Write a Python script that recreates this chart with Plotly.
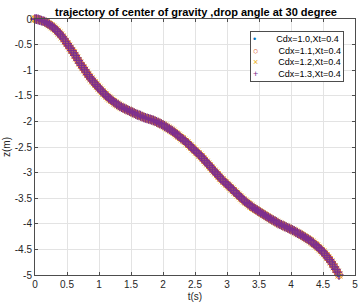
import plotly.graph_objects as go

# time samples (s)
t = [round(0.025 * i, 3) for i in range(191)]

# vertical position of centre of gravity z (m)
z = [0.00, -0.003, -0.01, -0.02, -0.03, -0.04, -0.05, -0.07, -0.09, -0.11,
     -0.13, -0.155, -0.18, -0.21, -0.24, -0.275, -0.31, -0.35, -0.39, -0.435,
     -0.48, -0.525, -0.57, -0.615, -0.66, -0.71, -0.76, -0.81, -0.86, -0.905,
     -0.95, -0.995, -1.04, -1.085, -1.13, -1.17, -1.21, -1.245, -1.28, -1.315,
     -1.35, -1.385, -1.42, -1.45, -1.48, -1.51, -1.54, -1.565, -1.59, -1.615,
     -1.64, -1.66, -1.68, -1.70, -1.72, -1.735, -1.75, -1.765, -1.78, -1.795,
     -1.81, -1.825, -1.84, -1.855, -1.87, -1.88, -1.89, -1.905, -1.92, -1.93,
     -1.94, -1.95, -1.96, -1.97, -1.98, -1.995, -2.01, -2.025, -2.04, -2.055,
     -2.07, -2.09, -2.11, -2.13, -2.15, -2.17, -2.19, -2.215, -2.24, -2.265,
     -2.29, -2.315, -2.34, -2.365, -2.39, -2.42, -2.45, -2.48, -2.51, -2.54,
     -2.57, -2.60, -2.63, -2.66, -2.69, -2.725, -2.76, -2.795, -2.83, -2.865,
     -2.90, -2.935, -2.97, -3.005, -3.04, -3.075, -3.11, -3.14, -3.17, -3.20,
     -3.23, -3.26, -3.29, -3.32, -3.35, -3.38, -3.41, -3.44, -3.47, -3.50,
     -3.53, -3.555, -3.58, -3.605, -3.63, -3.655, -3.68, -3.70, -3.72, -3.74,
     -3.76, -3.78, -3.80, -3.82, -3.84, -3.86, -3.88, -3.90, -3.92, -3.935,
     -3.95, -3.97, -3.99, -4.005, -4.02, -4.035, -4.05, -4.065, -4.08, -4.095,
     -4.11, -4.125, -4.14, -4.16, -4.18, -4.195, -4.21, -4.23, -4.25, -4.27,
     -4.29, -4.31, -4.33, -4.355, -4.38, -4.405, -4.43, -4.46, -4.49, -4.52,
     -4.55, -4.585, -4.62, -4.66, -4.70, -4.745, -4.79, -4.84, -4.89, -4.945,
     -5.00]

series_names = ["Cdx=1.0,Xt=0.4", "Cdx=1.1,Xt=0.4", "Cdx=1.2,Xt=0.4", "Cdx=1.3,Xt=0.4"]
series_colors = ["#0072BD", "#D95319", "#EDB120", "#7E2F8E"]
series_symbols = ["circle", "circle-open", "x-thin-open", "cross-thin-open"]
series_sizes = [4, 7, 7, 7]
series_widths = [1, 1, 1, 1.2]
legend_glyphs = ["\u2022", "\u25CB", "\u00D7", "+"]

x_ticks = [0, 0.5, 1, 1.5, 2, 2.5, 3, 3.5, 4, 4.5, 5]
y_ticks = [0, -0.5, -1, -1.5, -2, -2.5, -3, -3.5, -4, -4.5, -5]

fig = go.Figure()
for name, col, sym, sz, lw in zip(series_names, series_colors, series_symbols,
                                  series_sizes, series_widths):
    fig.add_trace(go.Scatter(
        x=t, y=z, mode="markers", name=name, showlegend=False, cliponaxis=False,
        marker=dict(symbol=sym, size=sz, color=col, line=dict(color=col, width=lw)),
    ))

font_fam = "Liberation Sans, Arial, sans-serif"
axis_col = "#4d4d4d"

fig.update_layout(
    width=364, height=307,
    margin=dict(l=34, r=6, t=19, b=32),
    paper_bgcolor="white", plot_bgcolor="white",
    font=dict(family=font_fam, size=10, color="#262626"),
    title=dict(text="<b>trajectory of center of gravity ,drop angle at 30 degree</b>",
               x=0.5385, xanchor="center", y=0.962, yanchor="middle",
               font=dict(size=11, color="#000000")),
    xaxis=dict(range=[0, 5], tickvals=x_ticks, ticktext=[str(v) for v in x_ticks],
               showgrid=True, gridcolor="#e3e3e3", gridwidth=1,
               showline=True, linecolor=axis_col, linewidth=1, mirror="ticks",
               ticks="inside", ticklen=3, tickcolor=axis_col, zeroline=False,
               title=dict(text="t(s)", standoff=3, font=dict(size=10)),
               tickfont=dict(size=10)),
    yaxis=dict(range=[-5, 0], tickvals=y_ticks, ticktext=[str(v) for v in y_ticks],
               showgrid=True, gridcolor="#e3e3e3", gridwidth=1,
               showline=True, linecolor=axis_col, linewidth=1, mirror="ticks",
               ticks="inside", ticklen=3, tickcolor=axis_col, zeroline=False,
               title=dict(text="z(m)", standoff=2, font=dict(size=10)),
               tickfont=dict(size=10)),
)

legend_lines = []
for name, col, g in zip(series_names, series_colors, legend_glyphs):
    legend_lines.append(f"<span style='color:{col}'>{g}</span>        {name}")
fig.add_annotation(
    xref="paper", yref="paper", x=0.9645, y=0.953, xanchor="right", yanchor="top",
    text="<br>".join(legend_lines), align="left", showarrow=False,
    font=dict(size=9, color="#000000", family=font_fam),
    bordercolor=axis_col, borderwidth=1, borderpad=2, bgcolor="white",
)

fig.write_html("out.html")
